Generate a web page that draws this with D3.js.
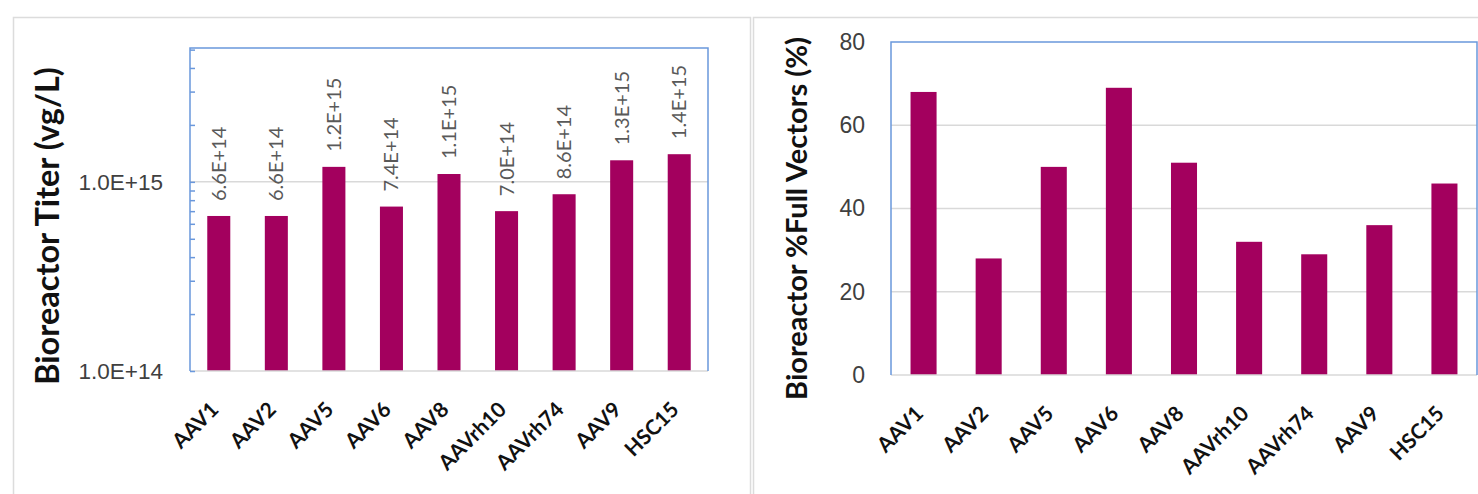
<!DOCTYPE html>
<html>
<head>
<meta charset="utf-8">
<script src="https://cdn.jsdelivr.net/npm/d3@7"></script>
<style>
  body { margin: 0; background: #fff; }
  svg { display: block; font-family: Lato, "Open Sans", sans-serif; }
</style>
</head>
<body>
<svg id="chart" width="1478" height="494"></svg>
<script>
// data
const vectors = ["AAV1", "AAV2", "AAV5", "AAV6", "AAV8", "AAVrh10", "AAVrh74", "AAV9", "HSC15"];
const titer = [6.6e14, 6.6e14, 1.2e15, 7.4e14, 1.1e15, 7.0e14, 8.6e14, 1.3e15, 1.4e15];
const fullPct = [68, 28, 50, 69, 51, 32, 29, 36, 46];
const pctTicks = [0, 20, 40, 60, 80];

const barColor = "#a3005e";
const blue = "#6a98dc";
const grid = "#d9d9d9";

const svg = d3.select("#chart");

// panel frames
svg.append("rect").attr("x", 13.5).attr("y", 17.5).attr("width", 737).attr("height", 520)
  .attr("fill", "none").attr("stroke", "#dcdcdc").attr("stroke-width", 1.5);
svg.append("rect").attr("x", 753.5).attr("y", 17.5).attr("width", 760).attr("height", 520)
  .attr("fill", "none").attr("stroke", "#dcdcdc").attr("stroke-width", 1.5);

function frame(g, x0, x1, y0, y1) {
  g.append("line").attr("x1", x0).attr("x2", x1).attr("y1", y1).attr("y2", y1)
    .attr("stroke", grid).attr("stroke-width", 1.5);
  g.append("path").attr("d", `M${x0},${y1}V${y0}H${x1}V${y1}`)
    .attr("fill", "none").attr("stroke", blue).attr("stroke-width", 1.5);
}

function xLabels(g, x, y1) {
  g.selectAll(".xl").data(vectors).join("text")
    .attr("class", "xl")
    .attr("transform", d => `translate(${x(d) + x.bandwidth() / 2 + 1},${y1 + 40}) rotate(-45)`)
    .attr("text-anchor", "end")
    .attr("font-weight", "bold")
    .attr("font-size", 21)
    .attr("fill", "#111")
    .text(d => d);
}

// ---------- left: titer, log scale ----------
{
  const x0 = 190, x1 = 708, y0 = 48, y1 = 371;
  const g = svg.append("g");
  const x = d3.scaleBand().domain(vectors).range([x0, x1]).paddingInner(0.6).paddingOuter(0.3);
  const y = d3.scaleLog().domain([1e14, 5.1e15]).range([y1, y0]);
  const fmt = v => d3.format(".1e")(v).toUpperCase();
  const isPow = v => Math.abs(Math.log10(v) - Math.round(Math.log10(v))) < 1e-9;

  g.append("line").attr("x1", x0).attr("x2", x1).attr("y1", y(1e15)).attr("y2", y(1e15))
    .attr("stroke", grid).attr("stroke-width", 1.5);

  g.selectAll(".bar").data(titer).join("rect")
    .attr("x", (d, i) => x(vectors[i]))
    .attr("width", x.bandwidth())
    .attr("y", d => y(d))
    .attr("height", d => y1 - y(d))
    .attr("fill", barColor);

  g.selectAll(".lbl").data(titer).join("text")
    .attr("transform", (d, i) => `translate(${x(vectors[i]) + x.bandwidth() / 2},${y(d) - 15}) rotate(-90)`)
    .attr("dy", "0.35em")
    .attr("font-size", 20)
    .attr("fill", "#595959")
    .text(fmt);

  frame(g, x0, x1, y0, y1);

  const ax = g.append("g").attr("transform", `translate(${x0},0)`)
    .call(d3.axisLeft(y).ticks(10).tickSizeInner(-5).tickSizeOuter(0).tickPadding(27)
      .tickFormat(v => isPow(v) ? fmt(v) : ""));
  ax.select(".domain").remove();
  ax.selectAll(".tick line").attr("stroke", blue).attr("stroke-width", 1.5);
  ax.selectAll(".tick text").attr("font-size", 22.5).attr("fill", "#404040").attr("font-family", null);

  xLabels(g, x, y1);

  g.append("text")
    .attr("transform", `translate(48,${(62 + 390) / 2}) rotate(-90)`)
    .attr("text-anchor", "middle").attr("dy", "0.35em")
    .attr("font-weight", "bold").attr("font-size", 32.5).attr("fill", "#111")
    .text("Bioreactor Titer (vg/L)");
}

// ---------- right: % full ----------
{
  const x0 = 891, x1 = 1477, y0 = 42, y1 = 375;
  const g = svg.append("g");
  const x = d3.scaleBand().domain(vectors).range([x0, x1]).paddingInner(0.6).paddingOuter(0.3);
  const y = d3.scaleLinear().domain([0, 80]).range([y1, y0]);

  g.selectAll(".gl").data(pctTicks.slice(1, -1)).join("line")
    .attr("x1", x0).attr("x2", x1).attr("y1", d => y(d)).attr("y2", d => y(d))
    .attr("stroke", grid).attr("stroke-width", 1.5);

  g.selectAll(".bar").data(fullPct).join("rect")
    .attr("x", (d, i) => x(vectors[i]))
    .attr("width", x.bandwidth())
    .attr("y", d => y(d))
    .attr("height", d => y1 - y(d))
    .attr("fill", barColor);

  frame(g, x0, x1, y0, y1);

  const ax = g.append("g").attr("transform", `translate(${x0},0)`)
    .call(d3.axisLeft(y).tickValues(pctTicks).tickSize(0).tickPadding(26));
  ax.select(".domain").remove();
  ax.selectAll(".tick text").attr("font-size", 23).attr("fill", "#404040").attr("font-family", null);

  xLabels(g, x, y1);

  g.append("text")
    .attr("transform", `translate(797,${(40 + 397) / 2}) rotate(-90)`)
    .attr("text-anchor", "middle").attr("dy", "0.35em")
    .attr("font-weight", "bold").attr("font-size", 29).attr("fill", "#111")
    .text("Bioreactor %Full Vectors (%)");
}
</script>
</body>
</html>
